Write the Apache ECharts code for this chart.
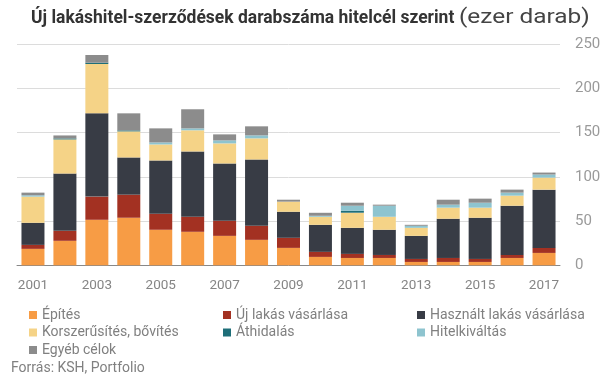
<!DOCTYPE html>
<html><head><meta charset="utf-8">
<script src="https://cdn.jsdelivr.net/npm/echarts@6/dist/echarts.min.js"></script>
<style>html,body{margin:0;padding:0;background:#fff}#c{width:605px;height:378px}</style>
</head><body><div id="c"></div>
<script>
const years = ['2001','2002','2003','2004','2005','2006','2007','2008','2009','2010','2011','2012','2013','2014','2015','2016','2017'];
const yTicks = [0, 50, 100, 150, 200, 250];
const epites = [18.6, 27.7, 51.5, 53.8, 40.2, 37.9, 33.3, 28.8, 19.7, 9.5, 8.3, 8.3, 3.8, 3.8, 3.8, 8.3, 14.0];
const ujLakas = [4.5, 11.3, 26.2, 26.1, 18.1, 17.0, 17.1, 15.9, 11.4, 5.7, 4.6, 3.4, 3.4, 4.5, 3.4, 3.4, 5.7];
const hasznalt = [25.0, 64.8, 94.3, 42.1, 60.3, 73.9, 64.8, 75.0, 29.5, 30.6, 29.5, 28.5, 26.1, 44.4, 46.6, 55.7, 65.9];
const korszerusites = [29.6, 38.6, 55.7, 29.5, 18.1, 23.9, 22.7, 23.9, 11.4, 9.1, 17.1, 14.7, 9.1, 12.5, 11.4, 11.4, 13.6];
const athidalas = [0, 1.1, 1.5, 1.1, 0, 0, 0, 0, 0, 0, 2.2, 0, 0, 0, 0, 0, 0];
const hitelkivaltas = [1.5, 0, 0, 0, 2.3, 2.2, 3.4, 3.4, 0, 1.1, 5.7, 12.5, 2.3, 3.4, 5.6, 3.4, 3.5];
const egyeb = [3.0, 3.4, 8.7, 19.3, 15.9, 21.6, 6.8, 10.2, 2.2, 3.4, 3.4, 1.2, 1.1, 5.6, 4.6, 3.4, 2.2];

const seriesDefs = [
  ['Építés', epites, '#F79C45'],
  ['Új lakás vásárlása', ujLakas, '#A33122'],
  ['Használt lakás vásárlása', hasznalt, '#383C45'],
  ['Korszerűsítés, bővítés', korszerusites, '#F5D387'],
  ['Áthidalás', athidalas, '#1E6E78'],
  ['Hitelkiváltás', hitelkivaltas, '#8EC4CF'],
  ['Egyéb célok', egyeb, '#8C8C8C']
];

const chart = echarts.init(document.getElementById('c'), null, {renderer: 'canvas'});
const FONT = 'Roboto';
const legendBase = {
  orient: 'vertical', top: 303, itemWidth: 8, itemHeight: 8, itemGap: 3.5,
  icon: 'rect', selectedMode: false,
  textStyle: {color: '#808080', fontSize: 14, fontFamily: FONT, lineHeight: 14}
};
chart.setOption({
  animation: false,
  color: seriesDefs.map(d => d[2]),
  grid: {left: 17, right: 45, top: 44.3, bottom: 112.7, containLabel: false},
  xAxis: {
    type: 'category', data: years, boundaryGap: true,
    axisLine: {lineStyle: {color: '#888', width: 1}},
    axisTick: {show: false},
    axisLabel: {interval: 1, color: '#858585', fontSize: 13.5, fontFamily: FONT, margin: 13}
  },
  yAxis: {
    type: 'value', position: 'right', min: yTicks[0], max: yTicks[yTicks.length - 1], interval: 50,
    axisLine: {show: false}, axisTick: {show: false},
    splitLine: {lineStyle: {color: '#dcdcdc', width: 1}},
    axisLabel: {color: '#9a9a9a', fontSize: 15, fontFamily: FONT, margin: 15, align: 'left'}
  },
  legend: [
    Object.assign({}, legendBase, {left: 24, data: ['Építés', 'Korszerűsítés, bővítés', 'Egyéb célok']}),
    Object.assign({}, legendBase, {left: 218, data: ['Új lakás vásárlása', 'Áthidalás']}),
    Object.assign({}, legendBase, {left: 412, data: ['Használt lakás vásárlása', 'Hitelkiváltás']})
  ],
  graphic: [
    {type: 'text', x: 31, y: 9, scaleX: 0.92,
     style: {text: 'Új lakáshitel-szerződések darabszáma hitelcél szerint',
       fontSize: 19, fontWeight: 'bold', fill: '#333', fontFamily: FONT}},
    {type: 'text', x: 459, y: 8, scaleX: 1.22,
     style: {text: '(ezer darab)', fontSize: 20, fontWeight: 'normal', fill: '#444', fontFamily: FONT}},
    {type: 'text', x: 11, y: 361,
     style: {text: 'Forrás: KSH, Portfolio', fontSize: 14, fill: '#808080', fontFamily: FONT}}
  ],
  series: seriesDefs.map(d => ({
    name: d[0], type: 'bar', stack: 'total', data: d[1], barWidth: '72%',
    itemStyle: {color: d[2]}
  }))
});
</script></body></html>
